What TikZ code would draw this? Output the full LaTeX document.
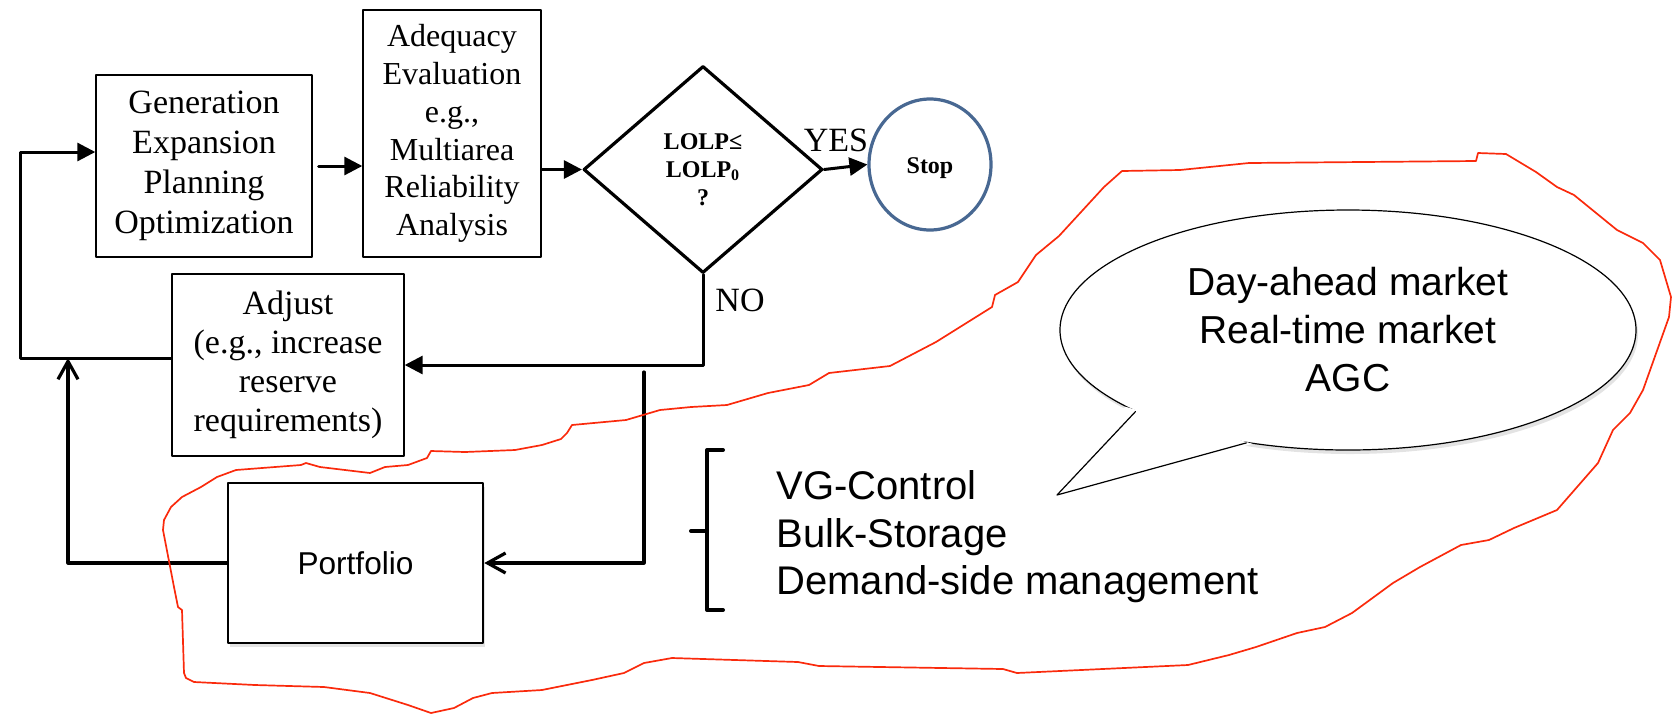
\documentclass[tikz,border=0pt]{standalone}
\usepackage{fontspec}
\setmainfont{Liberation Serif}
\newfontfamily\arialfont{Liberation Sans}
\usetikzlibrary{arrows.meta,shapes.geometric,shadows}
\definecolor{stopblue}{RGB}{72,104,146}
\definecolor{penred}{RGB}{250,42,12}

\begin{document}
\begin{tikzpicture}[x=0.5pt,y=-0.5pt,line cap=round,line join=round,
  box/.style={draw,line width=0.7pt,align=center,inner sep=0pt,
    font=\fontsize{17}{20}\selectfont},
  flow/.style={line width=1.5pt,-{Triangle[length=9pt,width=9pt]}},
  barb/.style={line width=1.6pt,-{Straight Barb[length=9pt,width=10pt]}},
  sans/.style={font=\arialfont\fontsize{20}{23.75}\selectfont},
  shade/.style={drop shadow={opacity=0.22,shadow xshift=1pt,shadow yshift=-2pt}}]
  \useasboundingbox (0,0) rectangle (1672,714);

  \node[box,minimum width=108pt,minimum height=91pt] (gen) at (204,166)
    {Generation\\Expansion\\Planning\\Optimization};
  \node[box,minimum width=89pt,minimum height=123.5pt,
    font=\fontsize{16}{18.9}\selectfont] (adeq) at (452,133.5)
    {Adequacy\\Evaluation\\e.g.,\\Multiarea\\Reliability\\Analysis};
  \node[diamond,draw,line width=1.6pt,inner sep=0pt,align=center,
    minimum width=119.5pt,minimum height=103.5pt,
    font=\bfseries\fontsize{12}{14}\selectfont] (dec) at (703,169.5)
    {LOLP≤\\LOLP\textsubscript{0}\\?};
  \node[ellipse,draw=stopblue,line width=1.6pt,inner sep=0pt,
    minimum width=61pt,minimum height=65.5pt,text height=9pt,text depth=0pt,
    font=\bfseries\fontsize{12}{14}\selectfont] (stop) at (930,164.5) {Stop};
  \node[box,minimum width=116pt,minimum height=91pt,
    font=\fontsize{17}{19.5}\selectfont] (adjust) at (288,365)
    {Adjust\\(e.g., increase\\reserve\\requirements)};
  \node[box,shade,fill=white,line width=1.3pt,minimum width=127.5pt,minimum height=80pt,
    font=\arialfont\fontsize{15.8}{19}\selectfont] (portfolio) at (355.5,563) {Portfolio};

  \node[font=\fontsize{17}{20}\selectfont] (yes) at (836,140) {YES};
  \node[font=\fontsize{17}{20}\selectfont] (no) at (740,300) {NO};

  \draw[flow] ([xshift=3pt]gen.east) -- (adeq.west |- gen.east);
  \draw[flow] (adeq.east |- dec.west) -- (dec.west);
  \draw[flow] (dec.east) -- (stop.west);
  \draw[flow] (dec.south) |- (adjust.east);
  \coordinate (loopL) at (20,358);
  \draw[flow] ([yshift=3.5pt]adjust.west) -- (loopL) |- ([yshift=7pt]gen.west);
  \coordinate (loopJ) at (68,358);
  \draw[barb] (portfolio.west) -| (loopJ);
  \coordinate (feedTop) at (644,372);
  \draw[barb] (feedTop) |- (portfolio.east);

  \draw[line width=2pt] (723,450) -- (707,450) -- (707,610) -- (723,610)
    (691,531) -- (707,531);
  \node[sans,align=left,inner sep=0pt,anchor=west] (tech) at (776,537)
    {VG-Control\\Bulk-Storage\\Demand-side management};

  \node[ellipse,draw,shade,fill=white,line width=0.6pt,align=center,inner sep=0pt,
    minimum width=288pt,minimum height=120pt,
    font=\arialfont\fontsize{19.5}{24}\selectfont] (bubble) at (1348,330)
    {Day-ahead market\\Real-time market\\AGC};
  \coordinate (tip) at (1057,495);
  \fill[white] (bubble.199) -- (tip) -- (bubble.230) -- cycle;
  \draw[line width=0.6pt] (bubble.201) -- (tip) -- (bubble.228);

  \draw[penred,line width=0.85pt] (1122,171) -- (1180,170) -- (1249,163) -- (1476,161)
    -- (1478,153) -- (1506,154) -- (1536,172) -- (1557,187) -- (1574,195) -- (1617,230)
    -- (1643,243) -- (1660,260) -- (1671,297) -- (1669,317) -- (1643,390) -- (1630,413)
    -- (1613,430) -- (1598,463) -- (1557,510) -- (1514,528) -- (1489,540) -- (1461,545)
    -- (1420,567) -- (1393,583) -- (1352,613) -- (1325,627) -- (1297,633) -- (1256,647)
    -- (1229,655) -- (1188,665) -- (1017,673) -- (1003,669) -- (819,666) -- (798,662)
    -- (672,658) -- (644,663) -- (624,673) -- (592,680) -- (542,690) -- (492,693)
    -- (473,698) -- (454,708) -- (431,713) -- (408,705) -- (370,693) -- (324,687)
    -- (255,685) -- (194,682) -- (186,678) -- (184,673) -- (182,610) -- (178,607)
    -- (174,587) -- (163,530) -- (164,520) -- (171,507) -- (182,497) -- (201,487)
    -- (217,477) -- (236,470) -- (301,465) -- (306,463) -- (320,467) -- (370,473)
    -- (385,467) -- (408,465) -- (427,458) -- (431,451) -- (465,452) -- (515,450)
    -- (542,445) -- (561,439) -- (567,433) -- (572,425) -- (626,420) -- (660,410)
    -- (691,407) -- (727,405) -- (768,393) -- (809,385) -- (829,373) -- (890,366)
    -- (936,342) -- (992,307) -- (995,295) -- (1018,282) -- (1036,255) -- (1059,236)
    -- (1104,187) -- cycle;
\end{tikzpicture}
\end{document}
